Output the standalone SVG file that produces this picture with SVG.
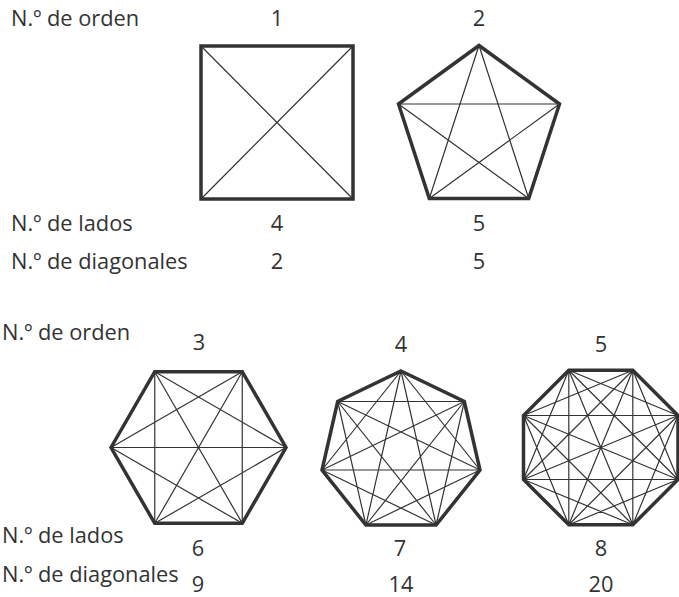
<svg xmlns="http://www.w3.org/2000/svg" width="679" height="597" viewBox="0 0 679 597">
<style>
text{font-family:"Open Sans","Noto Sans","Liberation Sans",sans-serif;font-size:21.8px;fill:#333}
.n{text-anchor:middle}
.side{fill:none;stroke:#333;stroke-width:3.5;stroke-linejoin:miter}
.diag{fill:none;stroke:#333;stroke-width:1.2}
</style>
<rect width="679" height="597" fill="#fff"/>
<g id="labels">
<text x="11" y="26">N.º de orden</text>
<text x="11" y="231">N.º de lados</text>
<text x="11" y="269">N.º de diagonales</text>
<text x="2" y="340">N.º de orden</text>
<text x="2" y="543">N.º de lados</text>
<text x="2" y="582">N.º de diagonales</text>
</g>
<g id="square">
<text class="n" x="277" y="26">1</text>
<path class="diag" d="M201,46 L353,199 M353,46 L201,199"/>
<rect class="side" x="201" y="46" width="152" height="153"/>
<text class="n" x="277" y="231">4</text>
<text class="n" x="277" y="269">2</text>
</g>
<g id="pentagon">
<text class="n" x="479" y="26">2</text>
<path class="diag" d="M479,45.5 L528.7,198.5 M479,45.5 L429.3,198.5 M559.5,104 L429.3,198.5 M559.5,104 L398.5,104 M528.7,198.5 L398.5,104"/>
<polygon class="side" points="479,45.5 559.5,104 528.7,198.5 429.3,198.5 398.5,104"/>
<text class="n" x="479" y="231">5</text>
<text class="n" x="479" y="269">5</text>
</g>
<g id="hexagon">
<text class="n" x="199" y="350">3</text>
<path class="diag" d="M111,447.5 L242.25,371.7 M111,447.5 L286,447.5 M111,447.5 L242.25,523.3 M154.75,371.7 L286,447.5 M154.75,371.7 L242.25,523.3 M154.75,371.7 L154.75,523.3 M242.25,371.7 L242.25,523.3 M242.25,371.7 L154.75,523.3 M286,447.5 L154.75,523.3"/>
<polygon class="side" points="111,447.5 154.75,371.7 242.25,371.7 286,447.5 242.25,523.3 154.75,523.3"/>
<text class="n" x="198" y="556">6</text>
<text class="n" x="198" y="592">9</text>
</g>
<g id="heptagon">
<text class="n" x="401" y="352">4</text>
<path class="diag" d="M401,371 L480,470 M401,371 L436.1,525 M401,371 L365.9,525 M401,371 L322,470 M464.3,401.5 L436.1,525 M464.3,401.5 L365.9,525 M464.3,401.5 L322,470 M464.3,401.5 L337.7,401.5 M480,470 L365.9,525 M480,470 L322,470 M480,470 L337.7,401.5 M436.1,525 L322,470 M436.1,525 L337.7,401.5 M365.9,525 L337.7,401.5"/>
<polygon class="side" points="401,371 464.3,401.5 480,470 436.1,525 365.9,525 322,470 337.7,401.5"/>
<text class="n" x="400" y="556">7</text>
<text class="n" x="401" y="592">14</text>
</g>
<g id="octagon">
<text class="n" x="601" y="352">5</text>
<path class="diag" d="M568.8,370.25 L678,415.5 M568.8,370.25 L678,479.5 M568.8,370.25 L632.8,524.75 M568.8,370.25 L568.8,524.75 M568.8,370.25 L523.5,479.5 M632.8,370.25 L678,479.5 M632.8,370.25 L632.8,524.75 M632.8,370.25 L568.8,524.75 M632.8,370.25 L523.5,479.5 M632.8,370.25 L523.5,415.5 M678,415.5 L632.8,524.75 M678,415.5 L568.8,524.75 M678,415.5 L523.5,479.5 M678,415.5 L523.5,415.5 M678,479.5 L568.8,524.75 M678,479.5 L523.5,479.5 M678,479.5 L523.5,415.5 M632.8,524.75 L523.5,479.5 M632.8,524.75 L523.5,415.5 M568.8,524.75 L523.5,415.5"/>
<polygon class="side" points="568.8,370.25 632.8,370.25 678,415.5 678,479.5 632.8,524.75 568.8,524.75 523.5,479.5 523.5,415.5"/>
<text class="n" x="601" y="556">8</text>
<text class="n" x="601" y="592">20</text>
</g>
</svg>
